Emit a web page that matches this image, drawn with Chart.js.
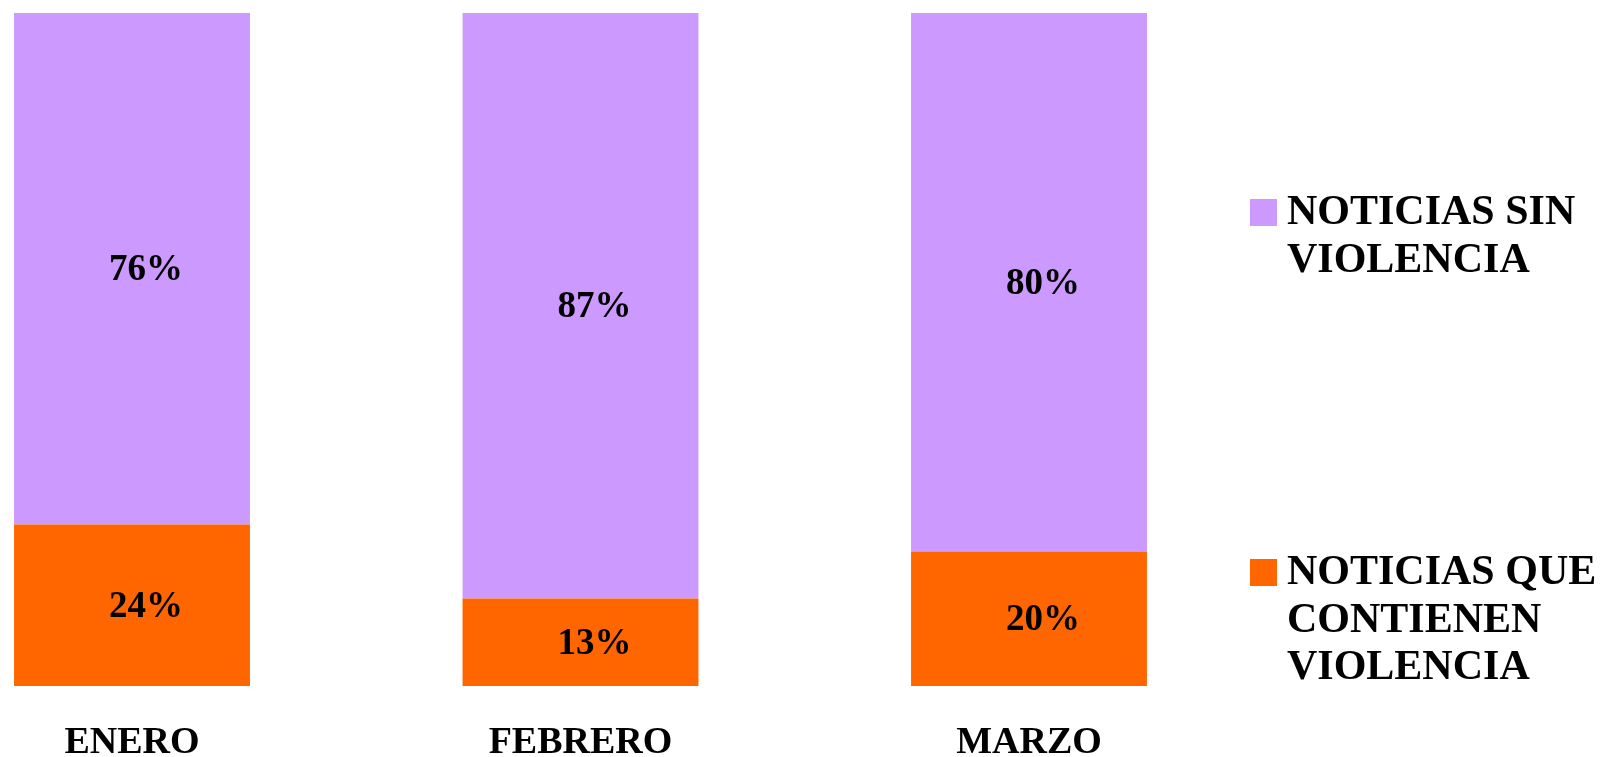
<!DOCTYPE html>
<html>
<head>
<meta charset="utf-8">
<script src="https://cdn.jsdelivr.net/npm/chart.js@4"></script>
<style>
  html, body { margin: 0; padding: 0; background: #fff; }
  #wrap { width: 1601px; height: 757px; position: relative; }
</style>
</head>
<body>
<div id="wrap"><canvas id="newsChart"></canvas></div>
<script>
const categories = ['ENERO', 'FEBRERO', 'MARZO'];
const violenceValues = [24, 13, 20];
const noViolenceValues = [76, 87, 80];
const violenceLabel = ['NOTICIAS QUE', 'CONTIENEN', 'VIOLENCIA'];
const noViolenceLabel = ['NOTICIAS SIN', 'VIOLENCIA'];

const FONT = "'Liberation Serif', 'Times New Roman', serif";

// value labels inside each segment + legend on the right
const labelPlugin = {
    id: 'labelPlugin',
    afterDatasetsDraw(chart) {
        const ctx = chart.ctx;
        ctx.save();
        ctx.fillStyle = '#000';
        ctx.font = 'bold 37px ' + FONT;
        ctx.textAlign = 'center';
        ctx.textBaseline = 'middle';
        chart.data.datasets.forEach((ds, i) => {
            chart.getDatasetMeta(i).data.forEach((bar, j) => {
                const yMid = (bar.y + bar.base) / 2;
                ctx.fillText(ds.data[j] + '%', bar.x + 14, yMid + 2);
            });
        });

        // legend
        const items = [
            { lines: chart.data.datasets[1].legendLines, color: chart.data.datasets[1].backgroundColor, top: 199 },
            { lines: chart.data.datasets[0].legendLines, color: chart.data.datasets[0].backgroundColor, top: 559 }
        ];
        ctx.font = 'bold 42px ' + FONT;
        ctx.textAlign = 'left';
        ctx.textBaseline = 'alphabetic';
        items.forEach(item => {
            ctx.fillStyle = item.color;
            ctx.fillRect(1250, item.top, 27, 27);
            ctx.fillStyle = '#000';
            item.lines.forEach((line, k) => {
                ctx.fillText(line, 1287, item.top + 25 + k * 47.7);
            });
        });
        ctx.restore();
    }
};

const ctx = document.getElementById('newsChart').getContext('2d');
const newsChart = new Chart(ctx, {
    type: 'bar',
    data: {
        labels: categories,
        datasets: [{
            label: violenceLabel.join(' '),
            legendLines: violenceLabel,
            data: violenceValues,
            backgroundColor: '#FF6600',
            clip: false,
            categoryPercentage: 1,
            barPercentage: 0.526
        }, {
            label: noViolenceLabel.join(' '),
            legendLines: noViolenceLabel,
            data: noViolenceValues,
            backgroundColor: '#CC99FF',
            clip: false,
            categoryPercentage: 1,
            barPercentage: 0.526
        }]
    },
    options: {
        responsive: true,
        maintainAspectRatio: false,
        animation: false,
        layout: {
            padding: { left: 132, right: 572, top: 13, bottom: -43 }
        },
        scales: {
            x: {
                stacked: true,
                offset: false,
                grid: { display: false, drawTicks: false },
                border: { display: false },
                ticks: {
                    color: '#000',
                    padding: 38,
                    maxRotation: 0,
                    autoSkip: false,
                    font: { family: FONT, size: 38, weight: 'bold', lineHeight: 1 }
                }
            },
            y: {
                stacked: true,
                display: false,
                min: 0,
                max: 100
            }
        },
        plugins: {
            legend: { display: false },
            tooltip: { enabled: false }
        }
    },
    plugins: [labelPlugin]
});
</script>
</body>
</html>
